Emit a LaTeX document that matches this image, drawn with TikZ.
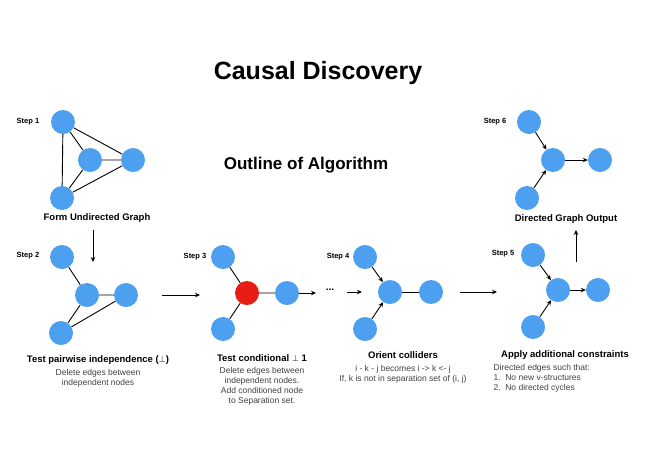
\documentclass[tikz,border=0pt]{standalone}
\usepackage{fontspec}
\setmainfont{Liberation Sans}
\usetikzlibrary{arrows.meta}
\definecolor{nblue}{RGB}{77,160,240}
\definecolor{nred}{RGB}{232,30,20}
\begin{document}
\begin{tikzpicture}[x=1pt,y=-1pt,
  v/.style={circle,fill=nblue,minimum size=24pt,inner sep=0pt},
  r/.style={circle,fill=nred,minimum size=24pt,inner sep=0pt},
  e/.style={line width=0.9pt},
  a/.style={line width=0.9pt,-{Stealth[length=5pt,width=4.5pt]}},
  steplbl/.style={font=\fontsize{7.5}{8}\selectfont\bfseries},
  captxt/.style={font=\fontsize{9.5}{10}\selectfont\bfseries},
  txt/.style={font=\fontsize{8.5}{10}\selectfont,align=center,text=black!75}]
\useasboundingbox (0,0) rectangle (655,459);
\node[font=\fontsize{25}{28}\selectfont\bfseries] (title) at (318,73) {Causal Discovery};
\node[font=\fontsize{17}{20}\selectfont\bfseries] (outline) at (306,165) {Outline of Algorithm};
% step 1
\node[steplbl] (s1) at (28,122) {Step 1};
\node[v] (a1) at (63,122) {}; \node[v] (b1) at (90,160) {};
\node[v] (c1) at (133,160) {}; \node[v] (d1) at (62,198) {};
\draw[e] (a1)--(b1) (a1)--(c1) (a1)--(d1) (b1)--(c1) (b1)--(d1) (d1)--(c1);
\node[captxt] (t1) at (97,218) {Form Undirected Graph};
\coordinate (p1) at (93,230); \coordinate (p2) at (93,262);
\draw[a] (p1)--(p2);
% step 2
\node[steplbl] (s2) at (28,256) {Step 2};
\node[v] (a2) at (62,257) {}; \node[v] (b2) at (87,295) {};
\node[v] (c2) at (126,295) {}; \node[v] (d2) at (61,333) {};
\draw[e] (a2)--(b2) (b2)--(c2) (b2)--(d2) (d2)--(c2);
\node[captxt] (t2) at (98,360) {Test pairwise independence ($\perp$)};
\node[txt] (u2) at (98,378) {Delete edges between\\independent nodes};
\coordinate (q1) at (162,295); \coordinate (q2) at (200,295);
\draw[a] (q1)--(q2);
% step 3
\node[steplbl] (s3) at (195,257) {Step 3};
\node[v] (a3) at (223,257) {}; \node[r] (b3) at (247,293) {};
\node[v] (c3) at (287,293) {}; \node[v] (d3) at (223,329) {};
\draw[e] (a3)--(b3) (b3)--(c3) (b3)--(d3);
\coordinate (r2) at (316,293);
\draw[a] (c3)--(r2);
\node[captxt] (t3) at (262,358) {Test conditional $\perp$ 1};
\node[txt] (u3) at (262,386) {Delete edges between\\independent nodes.\\Add conditioned node\\to Separation set.};
% step 4
\node[font=\bfseries,inner sep=1pt] (dots) at (330,290) {...};
\coordinate (w1) at (347,292); \coordinate (w2) at (362,292);
\draw[a] (w1)--(w2);
\node[steplbl] (s4) at (338,257) {Step 4};
\node[v] (a4) at (365,257) {}; \node[v] (b4) at (390,292) {};
\node[v] (c4) at (431,292) {}; \node[v] (d4) at (365,329) {};
\draw[a] (a4)--(b4); \draw[a] (d4)--(b4); \draw[e] (b4)--(c4);
\node[captxt] (t4) at (403,355) {Orient colliders};
\node[txt] (u4) at (403,374) {i - k - j becomes i -> k <- j\\If, k is not in separation set of (i, j)};
\coordinate (x1) at (460,292); \coordinate (x2) at (497,292);
\draw[a] (x1)--(x2);
% step 5
\node[steplbl] (s5) at (503,254) {Step 5};
\node[v] (a5) at (533,255) {}; \node[v] (b5) at (558,290) {};
\node[v] (c5) at (598,290) {}; \node[v] (d5) at (533,327) {};
\draw[a] (a5)--(b5); \draw[a] (d5)--(b5); \draw[a] (b5)--(c5);
\node[captxt] (t5) at (565,355) {Apply additional constraints};
\node[txt,align=left,anchor=north west] (u5) at (490,361) {Directed edges such that:\\1.\ \ No new v-structures\\2.\ \ No directed cycles};
\coordinate (y1) at (576,262); \coordinate (y2) at (576,230);
\draw[a] (y1)--(y2);
% step 6
\node[steplbl] (s6) at (495,122) {Step 6};
\node[v] (a6) at (529,122) {}; \node[v] (b6) at (553,160) {};
\node[v] (c6) at (600,160) {}; \node[v] (d6) at (527,198) {};
\draw[a] (a6)--(b6); \draw[a] (d6)--(b6); \draw[a] (b6)--(c6);
\node[captxt] (t6) at (566,219) {Directed Graph Output};
\end{tikzpicture}
\end{document}
